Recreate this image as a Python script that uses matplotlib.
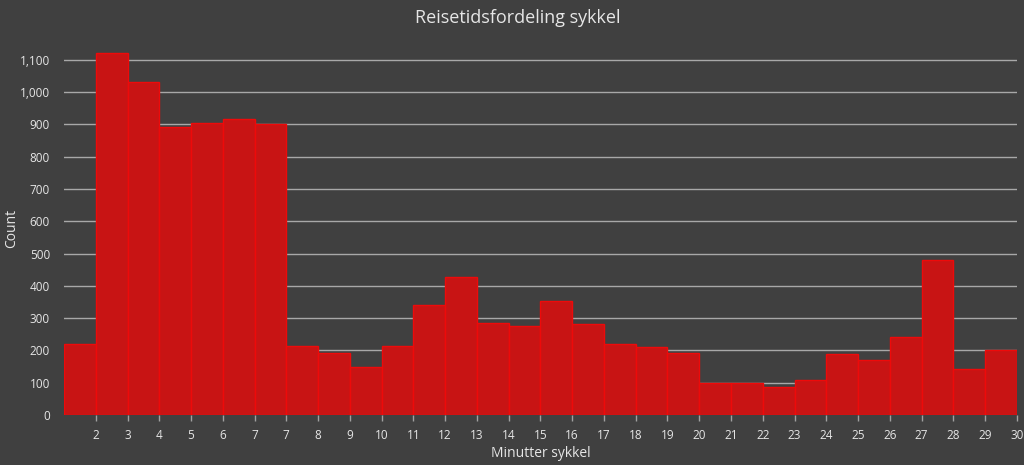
import matplotlib.pyplot as plt

# one bar per bin, tick labels are the (rounded) right bin edges
counts = [220, 1120, 1032, 891, 904, 918, 901, 214, 193, 148,
          214, 341, 429, 286, 277, 354, 282, 220, 212, 191,
          98, 98, 86, 108, 189, 170, 243, 480, 142, 201]
edge_labels = ['2', '3', '4', '5', '6', '7', '7', '8', '9', '10',
               '11', '12', '13', '14', '15', '16', '17', '18', '19', '20',
               '21', '22', '23', '24', '25', '26', '27', '28', '29', '30']
y_ticks = [0, 100, 200, 300, 400, 500, 600, 700, 800, 900, 1000, 1100]

bg = '#404040'
txt = '#e6e6e6'
plt.rcParams['font.family'] = ['Open Sans', 'DejaVu Sans']

fig = plt.figure(figsize=(10.24, 4.65), dpi=100, facecolor=bg)
ax = fig.add_axes([0.0625, 0.1075, 0.9305, 0.8025])
ax.set_facecolor(bg)

pos = range(len(counts))
ax.bar(pos, counts, width=1.0, align='edge', color='#c81414',
       edgecolor='#ee0a0a', linewidth=1.0, zorder=2)

ax.set_xlim(0, len(counts))
ax.set_ylim(0, 1156)
ax.set_xticks([i + 1 for i in pos])
ax.set_xticklabels(edge_labels)
ax.set_yticks(y_ticks)
ax.set_yticklabels([f'{v:,}' for v in y_ticks])

ax.grid(axis='y', color='#a8a8a8', linewidth=1.0, zorder=1)
ax.grid(axis='x', visible=False)
for s in ax.spines.values():
    s.set_visible(False)
ax.tick_params(axis='x', colors='#a0a0a0', labelcolor=txt, length=4,
               width=1, labelsize=8.5, pad=6)
ax.tick_params(axis='y', length=0, labelcolor=txt, labelsize=8.5, pad=10)

ax.set_xlabel('Minutter sykkel', color=txt, fontsize=10, labelpad=3)
ax.set_ylabel('Count', color=txt, fontsize=10)
ax.yaxis.set_label_coords(-0.047, 0.5)
fig.text(0.506, 0.962, 'Reisetidsfordeling sykkel', color=txt,
         fontsize=13, ha='center', va='center')

fig.savefig('out.png', dpi=100, facecolor=bg)
